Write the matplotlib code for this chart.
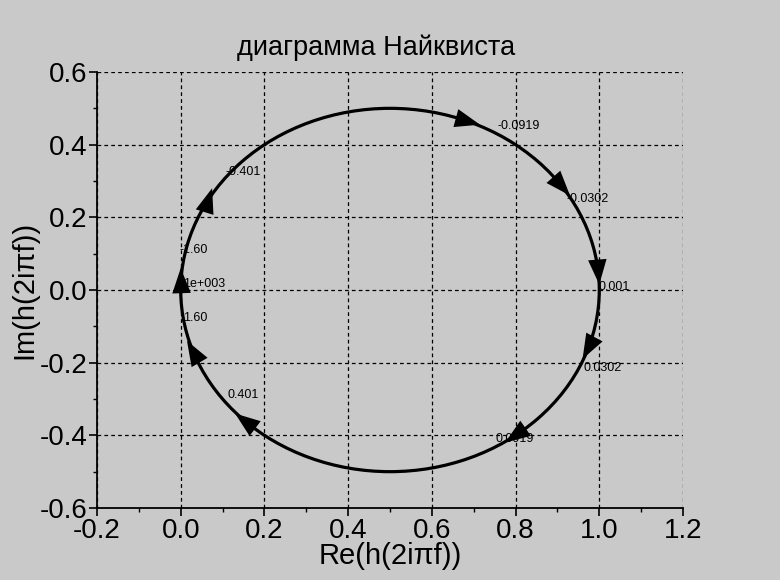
import numpy as np
import matplotlib
matplotlib.use('Agg')
import matplotlib.pyplot as plt
from matplotlib.patches import Ellipse
from matplotlib.ticker import MultipleLocator, FormatStrFormatter

plt.rcParams['font.family'] = ['Liberation Sans', 'DejaVu Sans']

# Nyquist locus: a circle through (0,0) and (1,0)
center_re, center_im = 0.5, 0.0
diameter = 1.0

# frequency labels along the locus
freq_labels = ['-0.0919', '-0.0302', '0.001', '0.0302', '0.0919',
               '0.401', '1.60', '1e+003', '-1.60', '-0.401']
label_re = [0.756, 0.921, 0.998, 0.962, 0.751, 0.112, 0.005, 0.005, -0.004, 0.108]
label_im = [0.452, 0.251, 0.008, -0.215, -0.410, -0.289, -0.077, 0.017, 0.110, 0.325]

# arrow tips along the locus (clockwise travel)
arrow_re = [0.715, 0.93, 1.0, 0.96, 0.775, 0.13, 0.015, 0.0, 0.075]
arrow_im = [0.455, 0.26, 0.015, -0.19, -0.42, -0.34, -0.14, 0.06, 0.28]

bg = '#c9c9c9'
fig = plt.figure(figsize=(7.8, 5.8), dpi=100, facecolor=bg)
ax = fig.add_axes([97/780, 1-508/580, 586/780, 436/580])
ax.set_facecolor(bg)

ax.set_xlim(-0.2, 1.2)
ax.set_ylim(-0.6, 0.6)
ax.xaxis.set_major_locator(MultipleLocator(0.2))
ax.xaxis.set_minor_locator(MultipleLocator(0.1))
ax.yaxis.set_major_locator(MultipleLocator(0.2))
ax.yaxis.set_minor_locator(MultipleLocator(0.1))
ax.xaxis.set_major_formatter(FormatStrFormatter('%.1f'))
ax.yaxis.set_major_formatter(FormatStrFormatter('%.1f'))

ax.grid(True, which='major', color='black', linestyle=(0, (3, 2.5)), linewidth=0.9)
ax.set_axisbelow(True)
for s in ['top', 'right']:
    ax.spines[s].set_visible(False)
for s in ['left', 'bottom']:
    ax.spines[s].set_linewidth(1.3)
ax.tick_params(which='major', direction='out', length=6, width=1.2, labelsize=20, pad=1)
ax.tick_params(which='minor', direction='out', length=3, width=1.0)

# locus
locus = Ellipse((center_re, center_im), diameter, diameter, fill=False,
                edgecolor='black', linewidth=2.3, zorder=4)
ax.add_patch(locus)

# arrows
for re, im in zip(arrow_re, arrow_im):
    th = np.arctan2(im - center_im, re - center_re)
    back = th + 0.06
    tail = (center_re + diameter/2*np.cos(back), center_im + diameter/2*np.sin(back))
    ax.annotate('', xy=(re, im), xytext=tail,
                arrowprops=dict(arrowstyle='-|>,head_length=1.0,head_width=0.37',
                                mutation_scale=18, color='black', lw=0,
                                shrinkA=0, shrinkB=0), zorder=5)

for txt, re, im in zip(freq_labels, label_re, label_im):
    ax.text(re, im, txt, fontsize=9, va='center', ha='left', zorder=3)

ax.set_title('диаграмма Найквиста', fontsize=19.5, pad=12, x=0.476)
ax.set_xlabel('Re(h(2iπf))', fontsize=21, labelpad=-1)
ax.set_ylabel('Im(h(2iπf))', fontsize=21, labelpad=1)

fig.savefig('out.png', dpi=100, facecolor=bg)
